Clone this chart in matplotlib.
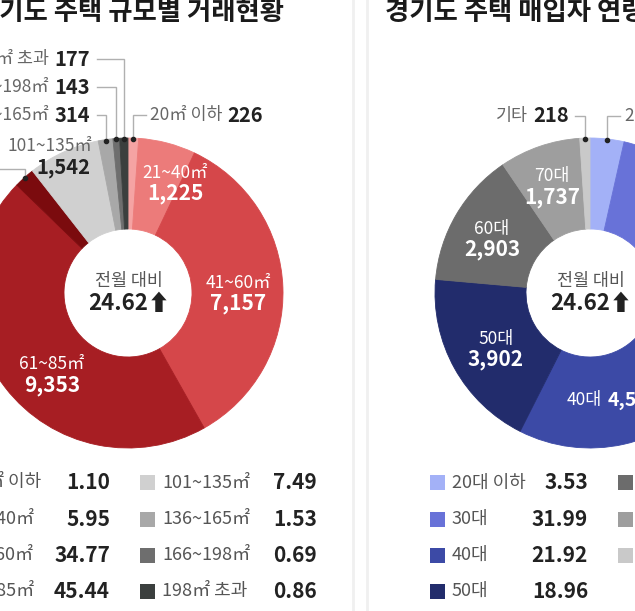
import matplotlib
matplotlib.use('Agg')
import numpy as np
import matplotlib.pyplot as plt
from matplotlib.patches import Rectangle

plt.rcParams['font.family'] = ['Noto Sans CJK KR', 'DejaVu Sans']

# data
size_labels = ['20㎡ 이하', '21~40㎡', '41~60㎡', '61~85㎡', '86~100㎡',
               '101~135㎡', '136~165㎡', '166~198㎡', '198㎡ 초과']
size_counts = [226, 1225, 7157, 9353, 446, 1542, 314, 143, 177]
size_shares = [1.10, 5.95, 34.77, 45.44, 2.17, 7.49, 1.53, 0.69, 0.86]
size_colors = ['#f5a3a3', '#ec7b7a', '#d5474a', '#a71e23', '#7b0b0e',
               '#d0d0d0', '#a8a8a8', '#6e6e6e', '#3b3f3e']

age_labels = ['20대 이하', '30대', '40대', '50대', '60대', '70대', '기타']
age_counts = [727, 6585, 4512, 3902, 2903, 1737, 218]
age_shares = [3.53, 31.99, 21.92, 18.96, 14.10, 8.44, 1.06]
age_colors = ['#a3b1f7', '#6872d8', '#3c4aa6', '#222c6c',
              '#6c6c6c', '#9e9e9e', '#c9c9c9']

change = 24.62

W, H = 635, 611
fig = plt.figure(figsize=(W / 100, H / 100), dpi=100)
fig.patch.set_facecolor('white')
ax = fig.add_axes([0, 0, 1, 1])

LBL = '#666666'
VAL = '#222222'
THIN = 'light'
R_OUT, WIDTH = 155, 91


def fmt(n):
    return f'{n:,}'


def donut(values, colors, center):
    # y axis is flipped later, so start at -90 and go "counterclock" = visual clockwise
    wedges, _ = ax.pie(values, colors=colors, startangle=-90, counterclock=True,
                       radius=R_OUT, center=center,
                       wedgeprops=dict(width=WIDTH, linewidth=0.6))
    for w in wedges:
        w.set_edgecolor(w.get_facecolor())
    return wedges


def edge_point(wedge, center):
    th = np.deg2rad((wedge.theta1 + wedge.theta2) / 2)
    return center[0] + (R_OUT - 1) * np.cos(th), center[1] + (R_OUT - 1) * np.sin(th)


c1 = (128, 293)
c2 = (590, 293)
w1 = donut(size_counts, size_colors, c1)
w2 = donut(age_counts, age_colors, c2)

ax.set_xlim(0, W)
ax.set_ylim(H, 0)
ax.set_aspect('auto')
ax.axis('off')

renderer = fig.canvas.get_renderer()


def pair(x, y, label, value, ha='left', lsize=12.5, vsize=14.5,
         lcol=LBL, vcol=VAL, gap=5):
    if ha == 'right':
        tv = ax.text(x, y, value, ha='right', va='center', fontsize=vsize,
                     fontweight='bold', color=vcol)
        wv = tv.get_window_extent(renderer).width
        ax.text(x - wv - gap, y, label, ha='right', va='center', fontsize=lsize,
                color=lcol, fontweight=THIN)
    else:
        tl = ax.text(x, y, label, ha='left', va='center', fontsize=lsize, color=lcol,
                     fontweight=THIN)
        wl = tl.get_window_extent(renderer).width
        ax.text(x + wl + gap, y, value, ha='left', va='center', fontsize=vsize,
                fontweight='bold', color=vcol)


def leader(wedge, center, x0, y0):
    px, py = edge_point(wedge, center)
    ax.plot([x0, px, px], [y0, y0, py], color='#b0b0b0', lw=1, solid_joinstyle='miter')
    ax.plot(px, py, 'o', ms=3, color='#222222')


def inside(x, y, label, value):
    ax.text(x, y - 10, label, ha='center', va='center', fontsize=12.5, color='white',
            fontweight=THIN)
    ax.text(x, y + 11, value, ha='center', va='center', fontsize=15,
            fontweight='bold', color='white')


def center_text(c):
    ax.text(c[0] + 1, c[1] - 12, '전월 대비', ha='center', va='center',
            fontsize=12.5, color='#555555', fontweight=THIN)
    ax.text(c[0] + 1, c[1] + 11, f'{change:.2f}⬆', ha='center', va='center',
            fontsize=16, fontweight='bold', color=VAL)


# titles
ax.text(284, 12, '경기도 주택 규모별 거래현황', ha='right', va='center',
        fontsize=19, fontweight='bold', color='#1a1a1a')
ax.text(385, 12, '경기도 주택 매입자 연령별 거래현황', ha='left', va='center',
        fontsize=19, fontweight='bold', color='#1a1a1a')

# divider
for xv in (353, 367):
    ax.plot([xv, xv], [0, H], color='#f0f0f0', lw=2)

# ---- left donut labels
inside(175, 183, size_labels[1], fmt(size_counts[1]))
inside(238, 293, size_labels[2], fmt(size_counts[2]))
inside(52, 374, size_labels[3], fmt(size_counts[3]))
ax.text(92, 146, size_labels[5], ha='right', va='center', fontsize=12.5, color=LBL,
        fontweight=THIN)
ax.text(90, 168, fmt(size_counts[5]), ha='right', va='center', fontsize=14.5,
        fontweight='bold', color=VAL)

outer_left = [(8, 90, 59, 97), (7, 90, 87, 97), (6, 90, 115, 97)]
for i, x, y, x0 in outer_left:
    pair(x, y, size_labels[i], fmt(size_counts[i]), ha='right')
    leader(w1[i], c1, x0, y)
pair(150, 115, size_labels[0], fmt(size_counts[0]), ha='left')
leader(w1[0], c1, 146, 115)
pair(-14, 169, size_labels[4], fmt(size_counts[4]), ha='right')
leader(w1[4], c1, -10, 169)
center_text(c1)

# ---- right donut labels
inside(552, 186, age_labels[5], fmt(age_counts[5]))
inside(492, 239, age_labels[4], fmt(age_counts[4]))
inside(496, 349, age_labels[3], fmt(age_counts[3]))
pair(567, 400, age_labels[2], fmt(age_counts[2]), ha='left', lcol='white', vcol='white', vsize=14)
pair(569, 116, age_labels[6], fmt(age_counts[6]), ha='right')
leader(w2[6], c2, 575, 116)
pair(625, 116, age_labels[0], fmt(age_counts[0]), ha='left')
leader(w2[0], c2, 620, 116)
center_text(c2)

# ---- legends
rows_y = [482.5, 519, 555, 591]


def legend(labels, shares, colors, sq_x, val_x):
    for k, (lab, sh, col) in enumerate(zip(labels, shares, colors)):
        y = rows_y[k]
        ax.add_patch(Rectangle((sq_x, y - 7.5), 15, 15, facecolor=col, edgecolor='none'))
        ax.text(sq_x + 22, y, lab, ha='left', va='center', fontsize=13, color='#555555',
                fontweight=THIN)
        ax.text(val_x, y, f'{sh:.2f}', ha='right', va='center', fontsize=15,
                fontweight='bold', color=VAL)


legend(size_labels[:4], size_shares[:4], size_colors[:4], -56, 110)
legend(size_labels[5:], size_shares[5:], size_colors[5:], 140, 317)
legend(age_labels[:4], age_shares[:4], age_colors[:4], 430, 588)
legend(age_labels[4:], age_shares[4:], age_colors[4:], 618, 776)

fig.savefig('out.png', dpi=100, facecolor='white')
